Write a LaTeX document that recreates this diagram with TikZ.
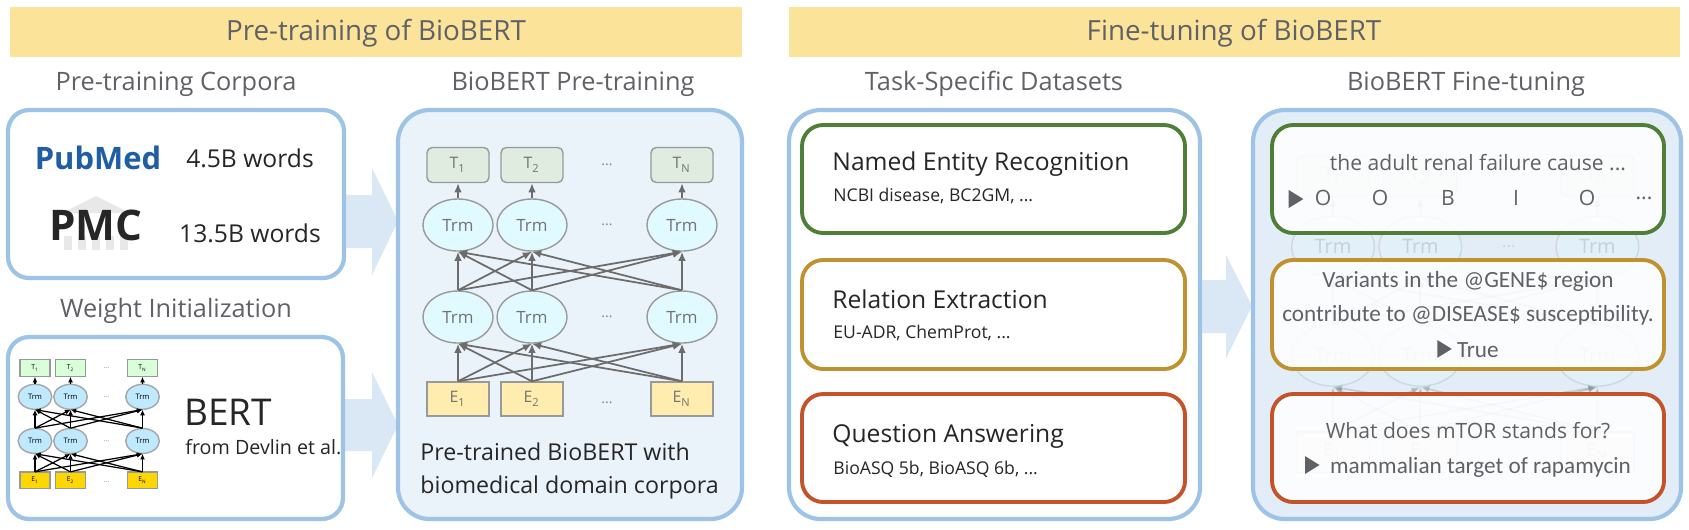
\documentclass[tikz,border=0pt]{standalone}
\usepackage{fontspec}
\setmainfont{Open Sans}
\newfontfamily\narrowfont{Carlito}
\usetikzlibrary{arrows.meta,shapes.geometric}
\definecolor{headfill}{HTML}{FBE49A}
\definecolor{greytext}{HTML}{5F6166}
\definecolor{panelline}{HTML}{9DC3E6}
\definecolor{panelfill}{HTML}{EBF3FA}
\definecolor{finefill}{HTML}{E2EDF8}
\definecolor{bigarrow}{HTML}{DAE8F5}
\definecolor{nergreen}{HTML}{4F7F35}
\definecolor{regold}{HTML}{C0922F}
\definecolor{qared}{HTML}{C4532A}
\definecolor{pubblue}{HTML}{1F5EA5}
\newcommand{\BertNet}[1]{% prefix
    \foreach \c/\x/\s in {1/0/1,2/74/2,N/224/N}{
        \node[tbox] (#1t\c) at (\x,0) {T\textsubscript{\s}};
        \node[trm] (#1a\c) at (\x,60) {Trm};
        \node[trm] (#1b\c) at (\x,152) {Trm};
        \node[ebox] (#1e\c) at (\x,234) {E\textsubscript{\s}};
        \draw[link] (#1a\c) -- (#1t\c);
    }
    \foreach \i in {1,2,N}{
        \foreach \j in {1,2,N}{
            \draw[link] (#1b\i.north) -- (#1a\j.south);
            \draw[link] (#1e\i.north) -- (#1b\j.south);
        }
    }
    \node[dots] (#1dt) at (149,0) {...};
    \node[dots] (#1da) at (149,60) {...};
    \node[dots] (#1db) at (149,152) {...};
    \node[dots] (#1de) at (149,238) {...};
}
\newcommand{\playmark}{\tikz[baseline=0pt]\fill[greytext] (0,0) -- (0,1.6ex) -- (1.3ex,0.8ex) -- cycle;}
\tikzset{
    header/.style={fill=headfill,draw=none},
    title/.style={text=greytext,font=\fontsize{7.2}{9}\selectfont},
    panel/.style={draw=panelline,line width=1.2pt,rounded corners=6pt,fill=white},
    task/.style={line width=1.1pt,rounded corners=6pt,fill=white},
    arrowbody/.style={fill=bigarrow,draw=none},
    tbox/.style={draw=gray!80,fill=green!25!gray!20,rounded corners=1.5pt,minimum width=0.62cm,minimum height=0.35cm,inner sep=0pt,text=gray!90!black,font=\fontsize{4.5}{5}\selectfont},
    trm/.style={ellipse,draw=gray!80,fill=blue!15!cyan!12,minimum width=0.7cm,minimum height=0.52cm,inner sep=0pt,text=gray!90!black,font=\fontsize{4.8}{5}\selectfont},
    ebox/.style={draw=gray!80,fill=yellow!60!orange!30,minimum width=0.62cm,minimum height=0.34cm,inner sep=0pt,text=gray!90!black,font=\fontsize{4.5}{5}\selectfont},
    link/.style={draw=gray!85!black,line width=0.5pt,-{Latex[length=2.6pt,width=2.2pt]}},
    dots/.style={text=gray,font=\fontsize{4}{4}\selectfont},
    body/.style={text=black!85,font=\fontsize{7}{9}\selectfont},
    small/.style={text=black!85,font=\fontsize{5}{6}\selectfont},
    finetext/.style={text=greytext,font=\fontsize{6}{8}\selectfont},
    narrowtext/.style={text=greytext,font=\narrowfont\fontsize{6.6}{8}\selectfont},
}

\begin{document}
\begin{tikzpicture}[x=0.01cm,y=-0.01cm]
    \useasboundingbox (0,0) rectangle (1689,529);

    % headers
    \fill[header] (10,7) rectangle (742,57);
    \fill[header] (789,7) rectangle (1680,57);
    \node[title,font=\fontsize{7.9}{10}\selectfont] (pretitle) at (376,33) {Pre-training of BioBERT};
    \node[title,font=\fontsize{7.9}{10}\selectfont] (finetitle) at (1234,33) {Fine-tuning of BioBERT};

    \node[title] (corpora) at (176,84) {Pre-training Corpora};
    \node[title] (pretrain) at (573,84) {BioBERT Pre-training};
    \node[title] (datasets) at (994,84) {Task-Specific Datasets};
    \node[title] (finetune) at (1466,84) {BioBERT Fine-tuning};
    \node[title] (weights) at (176,311) {Weight Initialization};

    % big arrows
    \fill[arrowbody] (345,195) -- (372,195) -- (372,168) -- (398,221) -- (372,275) -- (372,248) -- (345,248) -- cycle;
    \fill[arrowbody] (345,399) -- (372,399) -- (372,372) -- (398,425) -- (372,478) -- (372,451) -- (345,451) -- cycle;
    \fill[arrowbody] (1200,280) -- (1226,280) -- (1226,255) -- (1252,306) -- (1226,358) -- (1226,333) -- (1200,333) -- cycle;

    % corpora
    \draw[panel] (8,110) rectangle (344,278);
    \node[font=\bfseries\fontsize{8.8}{10}\selectfont,text=pubblue] (pubmed) at (98,158) {PubMed};
    \node[body] (pubwords) at (250,158) {4.5B words};
    \fill[gray!18] (62,213) -- (96,196) -- (130,213) -- cycle;
    \foreach \px in {68,82,96,110,124}{
        \fill[gray!18] (\px-4,236) rectangle (\px+4,250);
    }
    \node[font=\bfseries\fontsize{12}{14}\selectfont,text=black!85] (pmc) at (96,225) {PMC};
    \node[body] (pmcwords) at (250,233) {13.5B words};

    % BERT
    \draw[panel] (8,337) rectangle (343,519);
    \begin{scope}[shift={(35,368)},scale=0.48,transform shape,
        tbox/.style={draw=gray!80,fill=green!15!white,minimum width=0.62cm,minimum height=0.35cm,inner sep=0pt,font=\fontsize{4}{5}\selectfont},
        trm/.style={ellipse,draw=gray!70,fill=blue!35!cyan!25,minimum width=0.7cm,minimum height=0.52cm,inner sep=0pt,font=\fontsize{4.5}{5}\selectfont},
        ebox/.style={draw=gray!80,fill=yellow!75!orange,minimum width=0.62cm,minimum height=0.34cm,inner sep=0pt,font=\fontsize{4}{5}\selectfont},
        link/.style={draw=black,line width=0.35pt,-{Latex[length=1.6pt,width=1.4pt]}}]
        \BertNet{m}
    \end{scope}
    \node[anchor=west,font=\fontsize{10.5}{12}\selectfont,text=black!85] (bert) at (172,412) {BERT};
    \node[anchor=west,small,font=\fontsize{5.6}{7}\selectfont] (devlin) at (173,447) {from Devlin et al.};

    % BioBERT pre-training
    \draw[panel,fill=panelfill,rounded corners=9pt] (398,110) rectangle (742,519);
    \begin{scope}[shift={(458,165)}]
        \BertNet{p}
    \end{scope}
    \node[body,anchor=west,align=left,font=\fontsize{6.6}{9.4}\selectfont] (pretext) at (408,471) {Pre-trained BioBERT with\\biomedical domain corpora};

    % task-specific datasets
    \draw[panel,rounded corners=9pt] (789,110) rectangle (1200,519);
    \draw[task,draw=nergreen] (802,125) rectangle (1185,233);
    \draw[task,draw=regold] (802,260) rectangle (1185,369);
    \draw[task,draw=qared] (802,394) rectangle (1185,502);
    \node[body,anchor=west] (ner) at (820,164) {Named Entity Recognition};
    \node[small,anchor=west] (nersets) at (821,196) {NCBI disease, BC2GM, ...};
    \node[body,anchor=west] (re) at (820,299) {Relation Extraction};
    \node[small,anchor=west] (resets) at (821,333) {EU-ADR, ChemProt, ...};
    \node[body,anchor=west] (qa) at (820,436) {Question Answering};
    \node[small,anchor=west] (qasets) at (821,469) {BioASQ 5b, BioASQ 6b, ...};

    % BioBERT fine-tuning
    \draw[panel,fill=finefill,rounded corners=9pt] (1253,110) rectangle (1681,519);
    \begin{scope}[shift={(1333,176)},scale=1.18,transform shape,opacity=0.25]
        \BertNet{g}
    \end{scope}
    \draw[task,draw=nergreen,fill opacity=0.85] (1272,125) rectangle (1664,233);
    \draw[task,draw=regold,fill opacity=0.85] (1272,260) rectangle (1664,369);
    \draw[task,draw=qared,fill opacity=0.85] (1272,394) rectangle (1664,502);

    \node[finetext] (sentence) at (1478,163) {the adult renal failure cause ...};
    \node[finetext] (nerplay) at (1296,199) {\playmark};
    \foreach \tag/\tx [count=\k] in {O/1323,O/1380,B/1448,I/1516,O/1587}{
        \node[finetext] (tag\k) at (\tx,198) {\tag};
    }
    \node[finetext] (tagdots) at (1644,198) {...};
    \node[narrowtext] (variants) at (1468,281) {Variants in the @GENE\$ region};
    \node[narrowtext] (contrib) at (1468,315) {contribute to @DISEASE\$ susceptibility.};
    \node[narrowtext] (truelabel) at (1468,349) {\playmark\ True};
    \node[finetext] (question) at (1468,431) {What does mTOR stands for?};
    \node[narrowtext] (answer) at (1468,467) {\playmark\ \ mammalian target of rapamycin};
\end{tikzpicture}
\end{document}
